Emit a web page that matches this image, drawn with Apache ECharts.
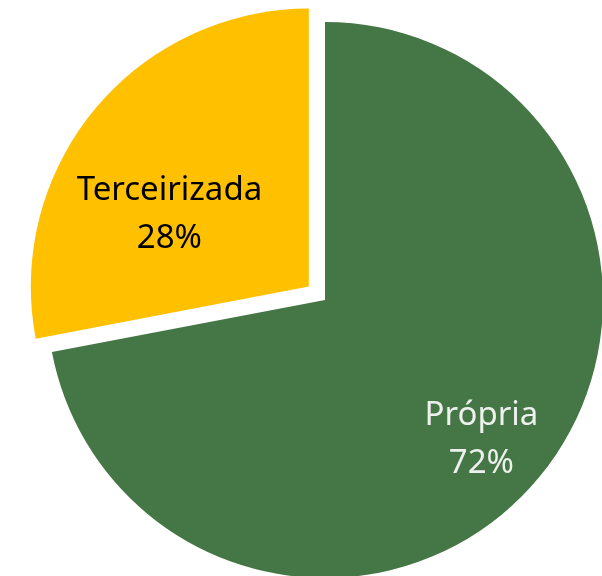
<!DOCTYPE html>
<html>
<head>
<meta charset="utf-8">
<script src="https://cdn.jsdelivr.net/npm/echarts@6/dist/echarts.min.js"></script>
<style>
  html, body { margin: 0; padding: 0; background: #fff; }
  #chart { width: 602px; height: 576px; }
</style>
</head>
<body>
<div id="chart"></div>
<script>
// dados
const categories = ['Própria', 'Terceirizada']
const values = [72, 28]
const colors = ['#457645', '#ffc000']
const labelColors = ['#eef0ee', '#000000']

const chart = echarts.init(document.getElementById('chart'))

// deslocamento dos rótulos (estilo Excel)
const labelShift = [
  { dx: 47, dy: 49 },
  { dx: -30, dy: 18 }
]

const option = {
  animation: false,
  series: [
    {
      type: 'pie',
      center: [325, 300],
      radius: [0, 278],
      startAngle: 90,
      clockwise: true,
      selectedMode: 'single',
      selectedOffset: 21,
      label: {
        position: 'inside',
        fontFamily: 'Noto Sans',
        fontSize: 33,
        lineHeight: 48,
        formatter: p => p.name + '\n' + p.value + '%'
      },
      labelLine: { show: false },
      emphasis: { disabled: true },
      labelLayout: params => labelShift[params.dataIndex],
      data: categories.map((name, i) => ({
        name: name,
        value: values[i],
        selected: i === 1,
        itemStyle: { color: colors[i] },
        label: { color: labelColors[i] }
      }))
    }
  ]
}

chart.setOption(option)
</script>
</body>
</html>
